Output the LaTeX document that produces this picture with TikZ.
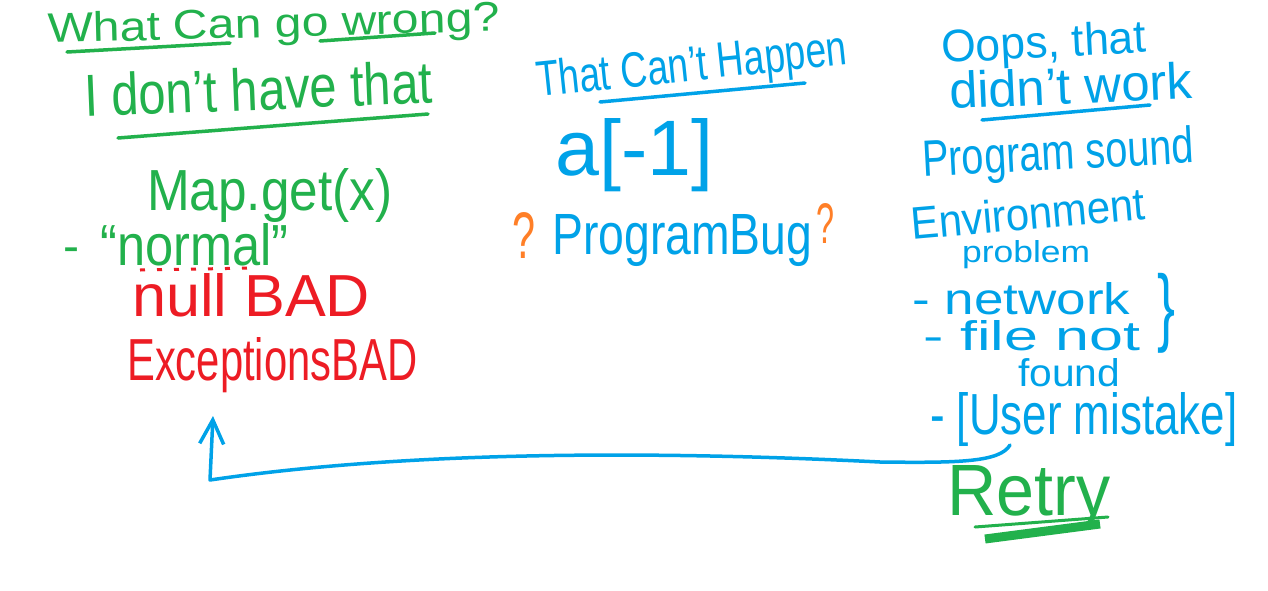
\documentclass[tikz,border=0pt]{standalone}
\usepackage{fontspec}
\setmainfont{Liberation Sans}
\usetikzlibrary{arrows.meta}
\definecolor{pgreen}{HTML}{22B14C}
\definecolor{pred}{HTML}{ED1C24}
\definecolor{pblue}{HTML}{00A2E8}
\definecolor{porange}{HTML}{FF7F27}
% width, height above baseline, text
\newcommand{\fwh}[3]{\resizebox{#1pt}{#2pt}{#3}}
\tikzset{
  hw/.style={inner sep=0pt, anchor=base west},
  ul/.style={line width=3.5pt, line cap=round},
  arr/.style={pblue, line width=3.5pt, line cap=round, line join=round, -{Straight Barb[length=24pt,width=24pt,line width=3.5pt]}}
}
\begin{document}
\begin{tikzpicture}[x=1pt,y=-1pt]
\useasboundingbox[fill=white] (0,0) rectangle (1268,590);
% ---------- left column (green/red)
\node[hw, pgreen, rotate=1.5] (wcg) at (48,43) {\fwh{452}{30}{What Can go wrong?}};
\draw[ul, pgreen] (67,52) -- (230,43);
\draw[ul, pgreen] (320,41) -- (435,33);
\node[hw, pgreen, rotate=2.3] (idh) at (85,117) {\fwh{348}{43}{I don't have that}};
\draw[ul, pgreen] (118,138) -- (428,114);
\node[hw, pgreen] (mget) at (147,210) {\fwh{245}{42}{Map.get(x)}};
\node[inner sep=0pt, pgreen] (dash1) at (71,255) {\resizebox{16pt}{!}{-}};
\node[hw, pgreen] (norm) at (100,265) {\fwh{188}{42}{“normal”}};
\draw[pred, line width=3pt, dash pattern=on 5pt off 12pt] (140,270) -- (255,268);
\node[hw, pred] (nul) at (132,316) {\fwh{238}{43}{null BAD}};
\node[hw, pred] (exc) at (127,380) {\fwh{290}{43}{ExceptionsBAD}};
% ---------- middle column (blue/orange)
\node[hw, pblue, rotate=6] (tch) at (538,97) {\fwh{312}{36}{That Can't Happen}};
\draw[ul, pblue] (600,102) -- (805,83);
\node[hw, pblue] (arr1) at (555,175) {\fwh{158}{57}{a[-1]}};
\node[hw, porange] (q1) at (512,258) {\fwh{23}{46}{?}};
\node[hw, pblue] (pb) at (552,254) {\fwh{260}{40}{ProgramBug}};
\node[hw, porange] (q2) at (816,243) {\fwh{18}{40}{?}};
% ---------- right column (blue)
\node[hw, pblue, rotate=3] (oops) at (942,63) {\fwh{205}{33}{Oops, that}};
\node[hw, pblue, rotate=2.5] (dnw) at (950,109) {\fwh{243}{37}{didn't work}};
\draw[ul, pblue] (982,120) -- (1150,105);
\node[hw, pblue, rotate=3] (psnd) at (923,177) {\fwh{272}{37}{Program sound}};
\node[hw, pblue, rotate=5] (env) at (912,240) {\fwh{235}{33}{Environment}};
\node[hw, pblue] (prob) at (962,262) {\fwh{128}{22}{problem}};
\node[hw, pblue] (net) at (912,314) {\fwh{218}{32}{- network}};
\node[hw, pblue] (fnot) at (923,350) {\fwh{217}{30}{- file not}};
\node[hw, pblue] (fnd) at (1018,386) {\fwh{102}{28}{found}};
\node[inner sep=0pt, anchor=north west, pblue] (brace) at (1157,273) {\resizebox*{18pt}{80pt}{\}}};
\node[hw, pblue] (usr) at (930,434) {\fwh{307}{42}{- [User mistake]}};
\node[hw, pgreen] (retry) at (947,515) {\fwh{163}{50}{Retry}};
\draw[pgreen, line width=3pt, line cap=round] (975,527) -- (1108,517);
\draw[pgreen, line width=9pt] (985,539) -- (1100,524);
% ---------- retry arrow
\coordinate (as) at (1010,445);
\coordinate (bl) at (210,480);
\coordinate (tip) at (213,416);
\draw[arr] (as) .. controls (1000,462) and (960,463) .. (880,462)
  .. controls (640,450) and (400,452) .. (bl) -- (tip);
\end{tikzpicture}
\end{document}
